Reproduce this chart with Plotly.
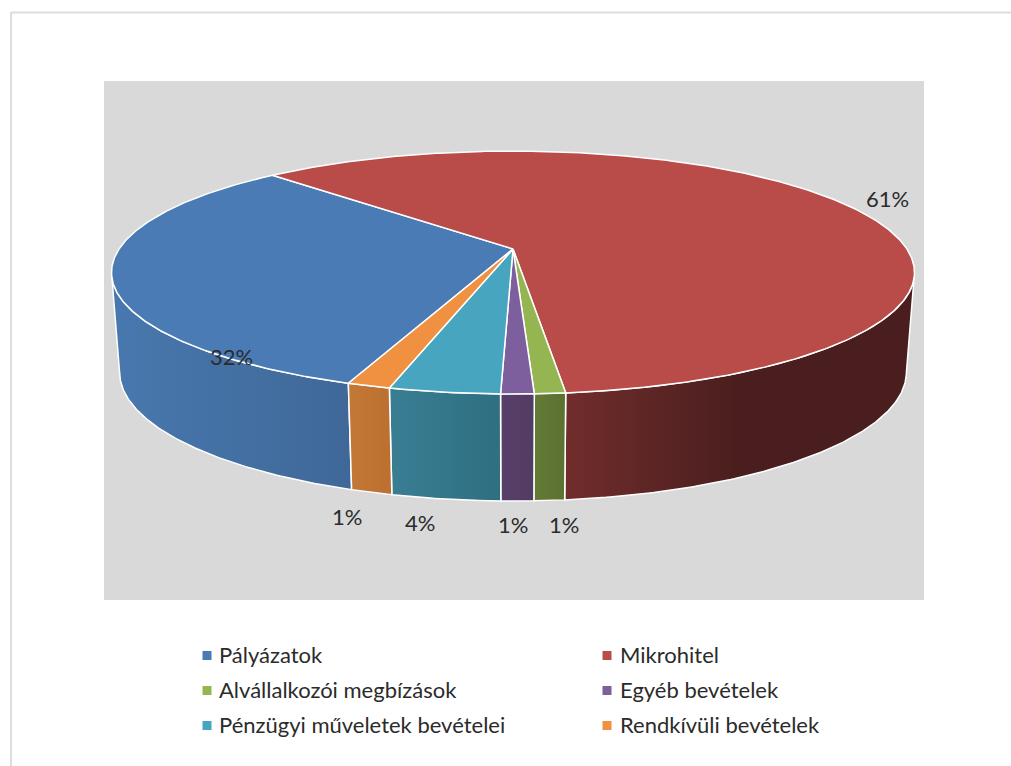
import numpy as np
import plotly.graph_objects as go

categories = ["Pályázatok", "Mikrohitel", "Alvállalkozói megbízások",
              "Egyéb bevételek", "Pénzügyi műveletek bevételei", "Rendkívüli bevételek"]
values = [32.2, 60.52, 1.03, 1.1, 3.7, 1.45]

# styles
top_colors = ["#4A7BB5", "#B94C49", "#95B552", "#7D5F9D", "#47A5BF", "#EF9140"]
side_left = ["#4878AE", "#712D2C", "#637A36", "#583F6A", "#3A7E94", "#C27836"]
side_right = ["#3F6898", "#4A1E1E", "#5C7130", "#533C62", "#2E6F80", "#BC7030"]
font = "Lato"
text_color = "#2B2B2B"

# pie geometry in pixels (perspective projection of a circular disc)
CX = 513.0
K = 0.1935
TOP = dict(y0=249.0, a=393.9, b=116.9)
BOTTOM = dict(y0=347.0, a=386.0, b=124.2)
START_DEG = 200.0
FRONT_LO = 90 + np.degrees(np.arcsin(K))
FRONT_HI = 270 - np.degrees(np.arcsin(K))


def project(theta_deg, plane, r=1.0):
    t = np.radians(theta_deg)
    u, v = r * np.sin(t), -r * np.cos(t)
    d = 1 - K * v
    return CX + plane["a"] * u / d, plane["y0"] + plane["b"] * v / d


total = sum(values)
sweeps = [v / total * 360 for v in values]
starts = [START_DEG + sum(sweeps[:i]) for i in range(len(values))]

fig = go.Figure()

# side walls
for i, (s, w) in enumerate(zip(starts, sweeps)):
    a0, a1 = s, s + w
    if a1 > 360 and a0 % 360 > a1 % 360 and (a1 % 360) > FRONT_LO:
        lo, hi = FRONT_LO, a1 % 360
    else:
        a0m = a0 % 360 if a0 >= 360 else a0
        lo, hi = max(a0m, FRONT_LO), min(a0m + w, FRONT_HI)
    if hi <= lo:
        continue
    th = np.linspace(lo, hi, max(3, int((hi - lo) * 2)))
    xt, yt = project(th, TOP)
    xb, yb = project(th[::-1], BOTTOM)
    stops = [[0, side_left[i]], [1, side_right[i]]]
    if i == 1:  # the long red wall reaches its darkest shade early
        stops = [[0, side_left[i]], [0.5, side_right[i]], [1, side_right[i]]]
    fig.add_trace(go.Scatter(
        x=np.r_[xt, xb, xt[0]], y=np.r_[yt, yb, yt[0]],
        mode="lines", fill="toself", line=dict(color="white", width=1.5),
        fillgradient=dict(type="horizontal", colorscale=stops),
        hoverinfo="skip", showlegend=False))

# top faces
for i, (s, w) in enumerate(zip(starts, sweeps)):
    th = np.linspace(s, s + w, max(3, int(w * 2)))
    xr, yr = project(th, TOP)
    ax, ay = project(0.0, TOP, r=0.0)
    fig.add_trace(go.Scatter(
        x=np.r_[ax, xr, ax], y=np.r_[ay, yr, ay],
        mode="lines", fill="toself", fillcolor=top_colors[i],
        line=dict(color="white", width=1.5),
        name=categories[i], hoverinfo="name", showlegend=False))

# data labels
label_pos = [(231, 356), (887, 198), (564, 524), (513, 524), (420, 522), (347, 516)]
for v, (lx, ly) in zip(values, label_pos):
    fig.add_annotation(x=lx, y=ly, text=f"{v / total * 100:.0f}%", showarrow=False,
                       font=dict(family=font, size=22, color=text_color),
                       xanchor="center", yanchor="middle")

# legend, two columns
for i, c in enumerate(categories):
    col, row = i % 2, i // 2
    fig.add_trace(go.Scatter(
        x=[207 + col * 400], y=[655.5 + row * 35],
        mode="markers", marker=dict(symbol="square", size=9, color=top_colors[i]),
        name=c, hoverinfo="name", showlegend=False))
    fig.add_annotation(x=217 + col * 401, y=654.5 + row * 35, text=c, showarrow=False,
                       font=dict(family=font, size=22, color=text_color),
                       xanchor="left", yanchor="middle")

fig.update_layout(
    width=1011, height=766, margin=dict(l=0, r=0, t=0, b=0),
    paper_bgcolor="white", plot_bgcolor="white", showlegend=False,
    xaxis=dict(range=[0, 1011], visible=False, fixedrange=True),
    yaxis=dict(range=[766, 0], visible=False, fixedrange=True),
    shapes=[
        dict(type="rect", xref="x", yref="y", x0=104, x1=924, y0=81, y1=600,
             fillcolor="#D9D9D9", line=dict(width=0), layer="below"),
        dict(type="line", xref="x", yref="y", x0=11, x1=1011, y0=12.5, y1=12.5,
             line=dict(color="#DDDDDD", width=2), layer="below"),
        dict(type="line", xref="x", yref="y", x0=11, x1=11, y0=12, y1=766,
             line=dict(color="#DDDDDD", width=2), layer="below"),
    ],
)
fig.write_html("out.html", config=dict(displayModeBar=False),
               post_script="document.body.style.margin='0';")
